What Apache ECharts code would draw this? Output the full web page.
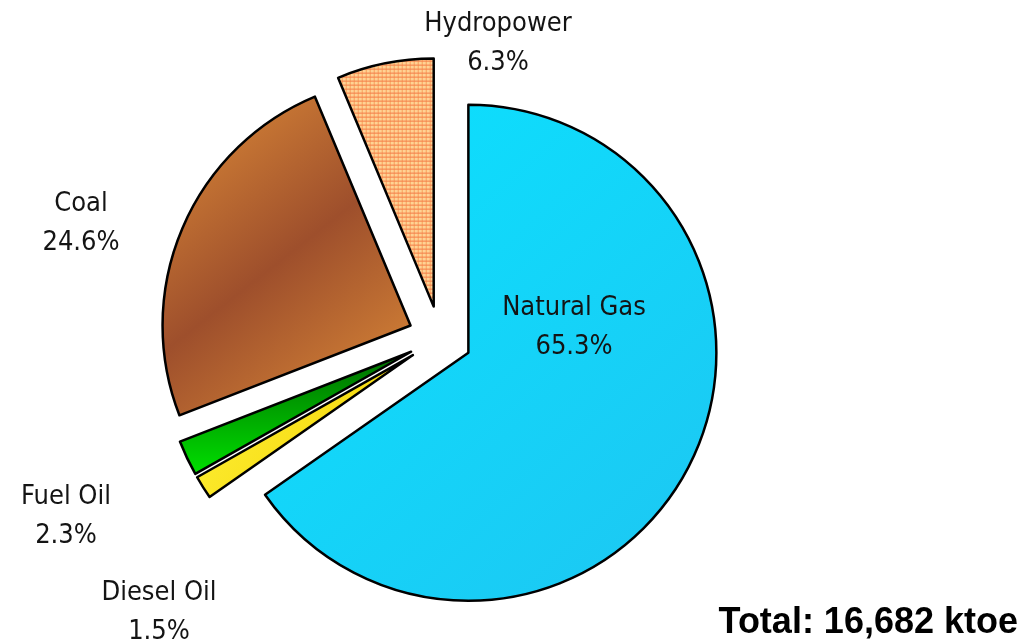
<!DOCTYPE html>
<html>
<head>
<meta charset="utf-8">
<script src="https://cdn.jsdelivr.net/npm/echarts@6/dist/echarts.min.js"></script>
<style>
html,body{margin:0;padding:0;background:#fff;}
#chart{width:1024px;height:642px;}
</style>
</head>
<body>
<div id="chart"></div>
<script>
// ---- data ----
var categories = ['Natural Gas', 'Diesel Oil', 'Fuel Oil', 'Coal', 'Hydropower'];
var shares = [65.3, 1.5, 2.3, 24.6, 6.3];
var totalText = 'Total: 16,682 ktoe';

// ---- layout (label block centres, px) ----
var labelPos = [[574, 327], [159, 612], [66, 516], [81, 223], [498, 43]];

function hydroPattern() {
  var c = document.createElement('canvas');
  c.width = 4; c.height = 4;
  var g = c.getContext('2d');
  g.fillStyle = '#FFD294'; g.fillRect(0, 0, 4, 4);
  g.fillStyle = '#F9A05A'; g.fillRect(0, 0, 1, 4);
  g.fillStyle = '#F47C48'; g.fillRect(0, 0, 4, 1);
  return c;
}
function lin(x1, y1, x2, y2, stops) {
  return new echarts.graphic.LinearGradient(x1, y1, x2, y2, stops.map(function (s) {
    return {offset: s[0], color: s[1]};
  }));
}
var fills = [
  lin(0, 0, 1, 1, [[0, '#0AE2FF'], [1, '#1EC6F2']]),
  lin(0, 0, 1, 1, [[0, '#FFF23A'], [1, '#F2D000']]),
  lin(0, 0, 0, 1, [[0, '#006A00'], [1, '#00E000']]),
  lin(0, 0, 1, 1, [[0, '#E08E38'], [0.5, '#9E4F2C'], [1, '#E08E38']]),
  {image: hydroPattern(), repeat: 'repeat'}
];

var labelFont = '27px "DejaVu Sans Condensed", Tahoma, "DejaVu Sans", sans-serif';
var labelTexts = categories.map(function (name, i) {
  return {
    type: 'text', x: labelPos[i][0], y: labelPos[i][1], z: 10,
    style: {
      text: name + '\n' + shares[i].toFixed(1) + '%',
      font: labelFont, lineHeight: 39, fill: '#141414',
      textAlign: 'center', textVerticalAlign: 'middle', align: 'center', verticalAlign: 'middle'
    }
  };
});

var chart = echarts.init(document.getElementById('chart'), null, {renderer: 'canvas'});
chart.setOption({
  animation: false,
  backgroundColor: '#ffffff',
  graphic: labelTexts.concat([{
    type: 'text', x: 1018, y: 641, z: 10,
    style: {text: totalText, font: 'bold 36px "Liberation Sans", Arial, sans-serif', fill: '#000',
            textAlign: 'right', textVerticalAlign: 'bottom', align: 'right', verticalAlign: 'bottom'}
  }]),
  series: [{
    type: 'pie',
    center: [440, 338],
    radius: [0, 248],
    startAngle: 90,
    clockwise: true,
    selectedMode: 'multiple',
    selectedOffset: 32,
    avoidLabelOverlap: false,
    itemStyle: {borderColor: '#000', borderWidth: 2.5},
    select: {itemStyle: {borderColor: '#000', borderWidth: 2.5}},
    emphasis: {disabled: true},
    label: {show: false},
    labelLine: {show: false},
    data: categories.map(function (name, i) {
      return {name: name, value: shares[i], selected: true, itemStyle: {color: fills[i]},
              select: {itemStyle: {color: fills[i]}}};
    })
  }]
});
</script>
</body>
</html>
